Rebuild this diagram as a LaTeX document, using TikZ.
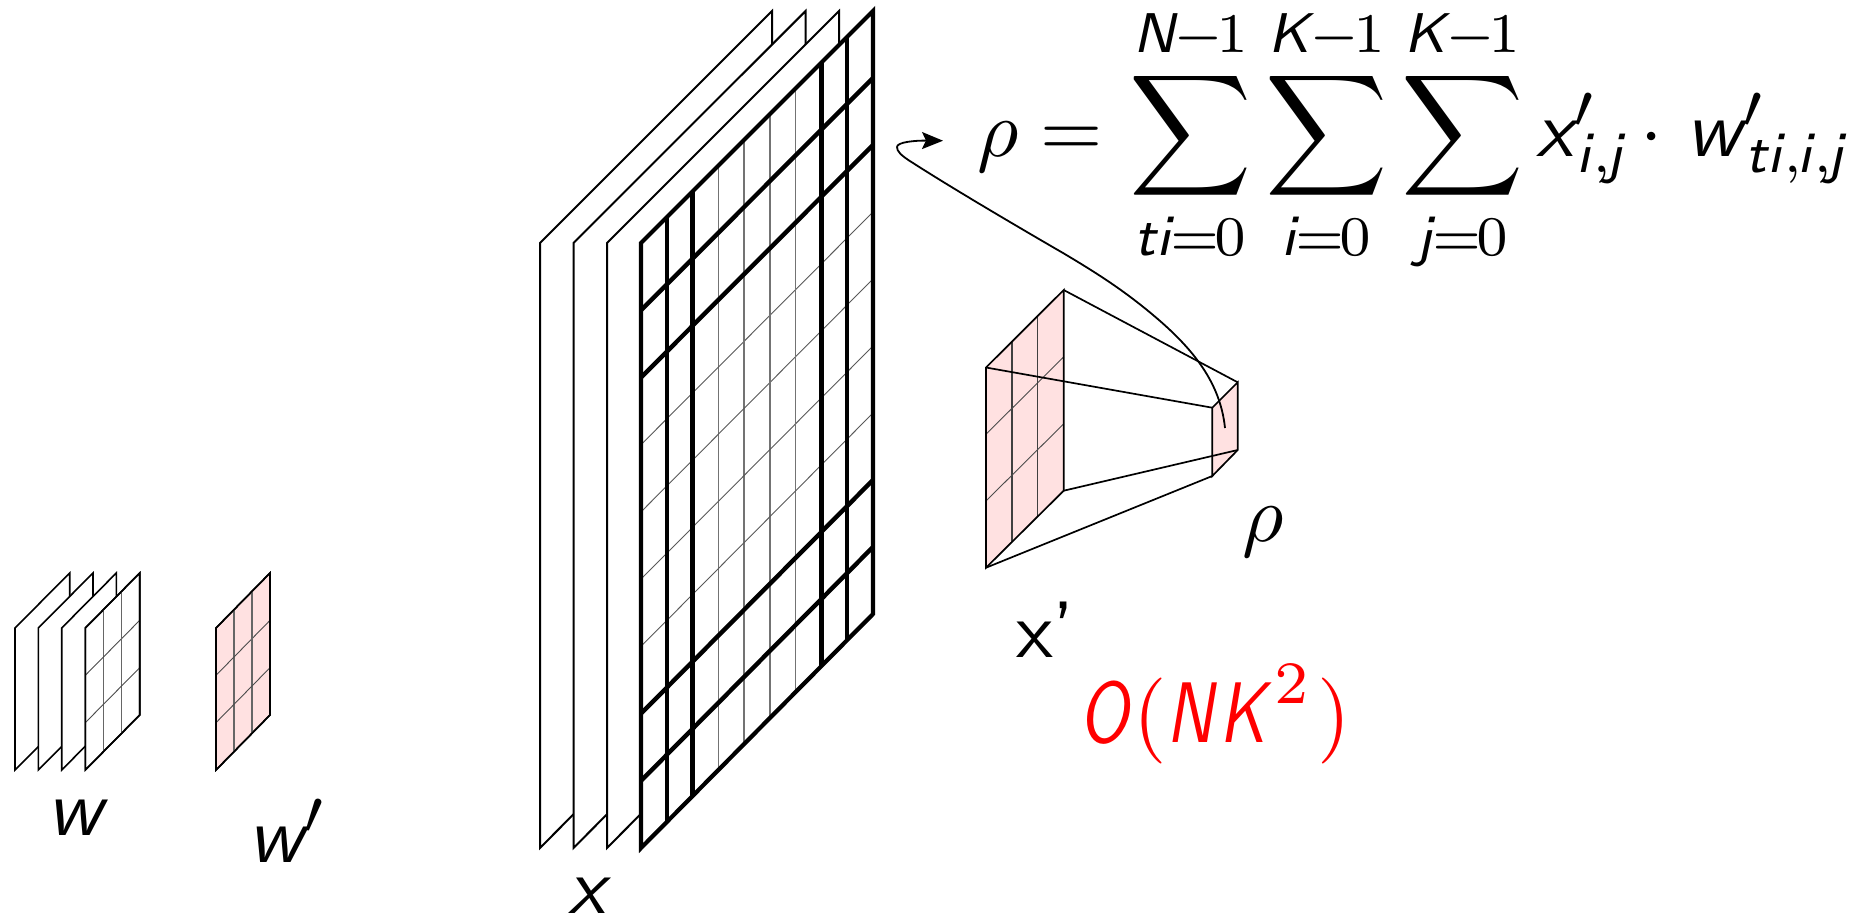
\documentclass[tikz,border=0pt]{standalone}
\usepackage{amsmath}
\usepackage{graphicx}
\usetikzlibrary{calc,arrows.meta}
\DeclareMathAlphabet{\msf}{OT1}{cmss}{m}{sl}
\definecolor{pinkfill}{HTML}{FFE1E1}
\tikzset{
  x=1pt,y=-1pt,
  plate/.style={draw=black,fill=white,line width=2pt,line join=miter},
  smallplate/.style={draw=black,fill=white,line width=1.6pt},
  pinkplate/.style={draw=black,fill=pinkfill,line width=1.6pt},
  thickgrid/.style={draw=black,line width=4.4pt},
  midgrid/.style={draw=black!55,line width=1.6pt},
  thingrid/.style={draw=black!65,line width=0.9pt},
  smallv/.style={draw=black!60,line width=1.5pt},
  smallh/.style={draw=black!70,line width=0.9pt},
  wire/.style={draw=black,line width=1.7pt},
  lab/.style={anchor=base west,inner sep=0pt,outer sep=0pt,scale=8,transform shape},
}
\newcommand{\smallgrid}[5]{% TL TR BR BL
  \foreach \u in {1,2}{
    \draw[smallv] ($(#1)!\u/3!(#2)$) -- ($(#4)!\u/3!(#3)$);
    \draw[smallh] ($(#1)!\u/3!(#4)$) -- ($(#2)!\u/3!(#3)$);
  }
}
% letter with a long prime leaning over its right end
\newcommand{\prm}[1]{{\msf{#1}\rlap{\kern-1pt\raisebox{3.6pt}{\scalebox{1.1}{$\scriptstyle\prime$}}}}}
\newcommand{\bigsum}{\mathop{\vcenter{\hbox{\scalebox{1.06}{$\displaystyle\sum$}}}}\limits}
\newcommand{\tm}{\mkern-1.8mu-\mkern-1.8mu}
\newcommand{\te}{\mkern-1.4mu=\mkern-1.4mu}
\newcommand{\tc}{\mkern-1mu,\mkern-1.4mu}
\newcommand{\nar}[1]{\scalebox{.78}[1]{$\msf{#1}$}}
\newcommand{\lowsub}[1]{\raisebox{-0.6pt}{$\scriptstyle\mkern-1.3mu #1$}}
\begin{document}
\begin{tikzpicture}
\useasboundingbox (0,0) rectangle (1865,916);
% small w stack
\foreach \i/\xa/\xb in {1/15/69.7,2/38.3/93,3/61.7/116.3,4/85.3/139.7}{
  \coordinate (wa\i) at (\xa,628);
  \coordinate (wb\i) at (\xb,573);
  \coordinate (wc\i) at (\xb,715);
  \coordinate (wd\i) at (\xa,770);
  \draw[smallplate] (wa\i) -- (wb\i) -- (wc\i) -- (wd\i) -- cycle;
}
\smallgrid{wa4}{wb4}{wc4}{wd4}{}
\draw[smallplate,fill=none] (wa4) -- (wb4) -- (wc4) -- (wd4) -- cycle;
% w'
\coordinate (pa) at (216,628);
\coordinate (pb) at (270,573);
\coordinate (pc) at (270,715);
\coordinate (pd) at (216,770);
\draw[pinkplate] (pa) -- (pb) -- (pc) -- (pd) -- cycle;
\smallgrid{pa}{pb}{pc}{pd}{}
\draw[pinkplate,fill=none] (pa) -- (pb) -- (pc) -- (pd) -- cycle;
% big x stack
\foreach \i/\xa/\xb in {1/540/772,2/573.5/805.6,3/607/839}{
  \coordinate (xa\i) at (\xa,243);
  \coordinate (xb\i) at (\xb,11);
  \coordinate (xc\i) at (\xb,614);
  \coordinate (xd\i) at (\xa,848);
  \draw[plate] (xa\i) -- (xb\i) -- (xc\i) -- (xd\i) -- cycle;
}
\coordinate (fa) at (641,243);
\coordinate (fb) at (873,11);
\coordinate (fc) at (873,614);
\coordinate (fd) at (641,848);
\fill[white] (fa) -- (fb) -- (fc) -- (fd) -- cycle;
\foreach \u in {3,4,5,6}{
  \draw[midgrid] ($(fa)!\u/9!(fb)$) -- ($(fd)!\u/9!(fc)$);
  \draw[thingrid] ($(fa)!\u/9!(fd)$) -- ($(fb)!\u/9!(fc)$);
}
\foreach \u in {1,2,7,8}{
  \draw[thickgrid] ($(fa)!\u/9!(fb)$) -- ($(fd)!\u/9!(fc)$);
  \draw[thickgrid] ($(fa)!\u/9!(fd)$) -- ($(fb)!\u/9!(fc)$);
}
\draw[draw=black,line width=4.2pt,line join=miter] (fa) -- (fb) -- (fc) -- (fd) -- cycle;
% x' frustum
\coordinate (ba) at (986,367.5);
\coordinate (bb) at (1063.7,290);
\coordinate (bc) at (1063.7,490.7);
\coordinate (bd) at (986,567.7);
\coordinate (sa) at (1212.3,407.7);
\coordinate (sb) at (1237.7,382.3);
\coordinate (sc) at (1237.7,450);
\coordinate (sd) at (1212.3,476);
\fill[pinkfill] (ba) -- (bb) -- (bc) -- (bd) -- cycle;
\fill[pinkfill] (sa) -- (sb) -- (sc) -- (sd) -- cycle;
\foreach \u in {1,2}{
  \draw[draw=black!75,line width=1.3pt] ($(ba)!\u/3!(bb)$) -- ($(bd)!\u/3!(bc)$);
  \draw[smallh] ($(ba)!\u/3!(bd)$) -- ($(bb)!\u/3!(bc)$);
}
\draw[wire,line join=miter] (ba) -- (bb) -- (bc) -- (bd) -- cycle;
\draw[wire,line join=miter] (sa) -- (sb) -- (sc) -- (sd) -- cycle;
\draw[wire] (ba) -- (sa);
\draw[wire] (bb) -- (sb);
\draw[wire] (bc) -- (sc);
\draw[wire] (bd) -- (sd);
% curve
\coordinate (cs) at (1225,428);
\coordinate (ct) at (943,140.7);
\draw[black,line width=1.8pt,-{Stealth[length=21pt,width=17pt,inset=4pt]}] (cs)
  .. controls (1220,380) and (1190,345) .. (1147,310)
  .. controls (1120,288) and (1095,272) .. (1063,253)
  .. controls (1025,231) and (955,190) .. (913,163)
  .. controls (900,155) and (897,151) .. (897,147)
  .. controls (897,142) and (915,140.5) .. (ct);
% labels
\node[lab] (lw) at (47,835) {$\msf{w}$};
\node[lab] (lwp) at (248,862) {$\prm{w}$};
\node[lab] (lx) at (568,913) {$\msf{x}$};
\node[lab] (lrho) at (1242,541) {$\rho$};
\node[lab] (lxp) at (1016,657) {\sffamily x'};
\node[lab,text=red,scale=1.075] (lo) at (1079,742) {$\nar{O}(\nar{N}\nar{K}^{2}\mkern1mu)$};
\node[lab] (eq) at (977,156) {$\displaystyle \rho=\mkern1mu\bigsum_{\msf{t}\msf{i}\te 0}^{\msf{N}\tm 1}\bigsum_{\msf{i}\te 0}^{\msf{K}\tm 1}\bigsum_{\msf{j}\te 0}^{\msf{K}\tm 1}\prm{x}_{\lowsub{\msf{i}\tc\msf{j}}}\mkern-2mu\cdot\mkern1.5mu\prm{w}_{\lowsub{\msf{t}\msf{i}\tc\msf{i}\tc\msf{j}}}$};
\end{tikzpicture}
\end{document}
